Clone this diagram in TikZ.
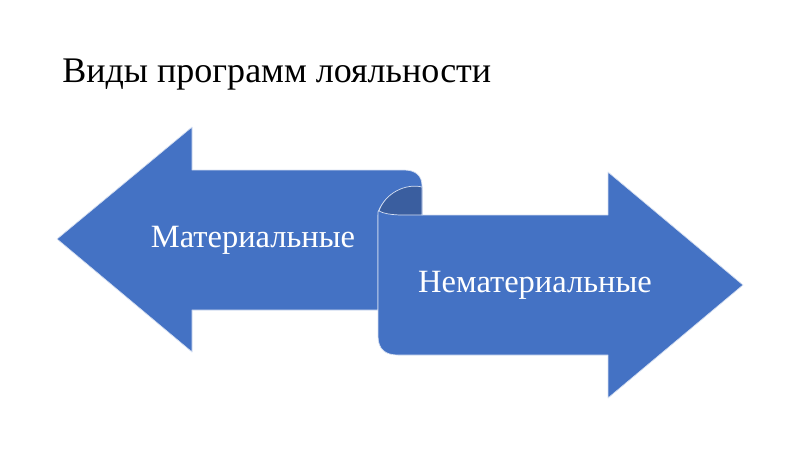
\documentclass[tikz,border=0pt]{standalone}
\usepackage{fontspec}
\setmainfont{Liberation Serif}
\usepackage{tikz}
\definecolor{ShapeBlue}{HTML}{4472C4}
\definecolor{FoldBlue}{HTML}{3A5E9F}
\definecolor{EdgeBlue}{HTML}{D6E0F2}

\begin{document}
\begin{tikzpicture}[
x=0.02cm, y=-0.02cm,
bandfill/.style={fill=ShapeBlue, draw=EdgeBlue, line width=0.4pt, line join=round},
foldfill/.style={fill=FoldBlue, draw=EdgeBlue, line width=0.4pt},
labeltext/.style={text=white, font=\fontsize{18.5}{22}\selectfont},
heading/.style={font=\fontsize{20.5}{24}\selectfont, anchor=base west, inner sep=0pt}
]
\useasboundingbox (0,0) rectangle (800,450);
% left arrow with curled end
\path[bandfill] (57,239) -- (192,127) -- (192,170) -- (404,170)
  .. controls (416,170) and (422,176) .. (422,186) -- (422,215)
  -- (378,215) -- (378,310) -- (192,310) -- (192,352) -- cycle;
% right arrow
\path[bandfill] (378,212) -- (378,336)
  .. controls (378,350) and (386,355) .. (398,355) -- (608,355)
  -- (608,398) -- (743,285) -- (608,172) -- (608,215) -- (422,215) -- (422,190)
  .. controls (408,184) and (386,192) .. (378,212) -- cycle;
% back of the fold
\path[foldfill] (422,187) .. controls (406,183) and (385,193) .. (379,211)
  .. controls (388,216) and (405,215) .. (422,215) -- cycle;
\node[heading] (title) at (62,82) {Виды программ лояльности};
\node[labeltext] (material) at (253,240) {Материальные};
\node[labeltext] (nonmaterial) at (535,285) {Нематериальные};
\end{tikzpicture}
\end{document}
